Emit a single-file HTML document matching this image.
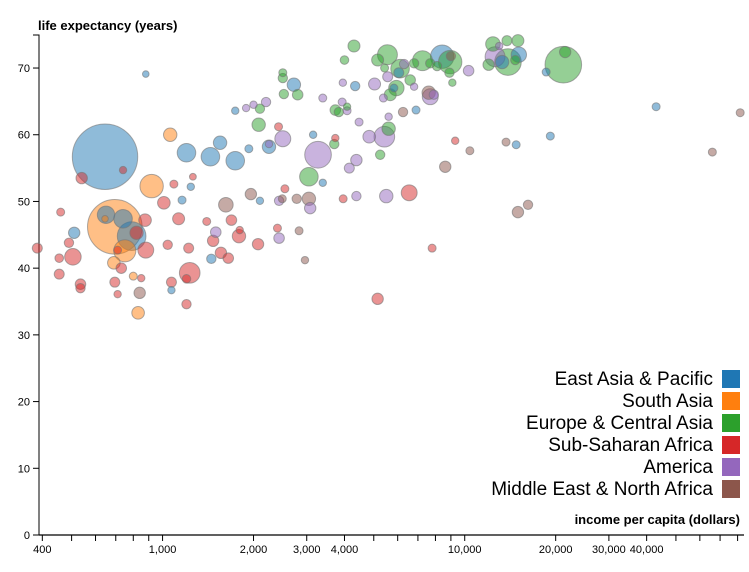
<!DOCTYPE html>
<html><head><meta charset="utf-8"><style>
body{margin:0;background:#fff;}
svg{display:block;font-family:"Liberation Sans",sans-serif;}
.tick text{font-size:11px;fill:#000;}
</style></head><body>
<svg id="chart" width="749" height="572">
<g id="axes"></g>
<g id="dots"></g>
<text x="38" y="30" font-size="13" font-weight="bold">life expectancy (years)</text>
<text x="740" y="524" font-size="13" font-weight="bold" text-anchor="end">income per capita (dollars)</text>
<g id="legend"></g>
</svg>
<script>
const regionNames = ["East Asia & Pacific","South Asia","Europe & Central Asia","Sub-Saharan Africa","America","Middle East & North Africa"];
const regionColors = ["#1f77b4","#ff7f0e","#2ca02c","#d62728","#9467bd","#8c564b"];
const yTicks = [0,10,20,30,40,50,60,70];
const xTickValues = [400,500,600,700,800,900,1000,2000,3000,4000,5000,6000,7000,8000,9000,10000,20000,30000,40000,50000,60000,70000,80000];
const xTickLabels = {400:"400",1000:"1,000",2000:"2,000",3000:"3,000",4000:"4,000",10000:"10,000",20000:"20,000",30000:"30,000",40000:"40,000"};
const incomes = [645,540,740,1060,1200,920,1090,1260,1240,1160,1010,695,650,645,740,790,820,875,750,710,880,460,510,490,385,455,505,690,730,455,535,535,695,800,850,710,840,830,1040,1220,1130,1400,1230,1200,1070,1070,1200,2500,2500,2720,2520,2800,3390,3950,4340,5030,2200,2000,1890,2100,1740,2080,2420,2500,1550,1440,1740,1930,2250,2250,3150,3730,3700,3270,3050,3390,4380,4150,5250,4830,5420,5600,4470,5600,6250,6900,3730,3830,3930,4080,4080,7690,7600,7900,8620,6550,5500,4380,3960,3050,3080,2780,2490,2430,2540,2100,1960,1620,1690,1790,1800,1500,1470,2070,2400,2430,2830,2960,1560,1650,1450,7800,5150,4300,4000,5550,5150,5430,6110,6050,6300,6600,5560,6800,5940,5830,5670,5380,7250,6800,7690,8420,8950,9000,8100,8900,10300,9100,12400,13800,15000,13900,12600,15100,13300,14700,12000,13000,21200,21500,18600,43000,81600,66000,19200,14800,13700,9300,10400,15000,16200,880];
const lifeExp = [56.7,53.5,54.7,60.0,57.3,52.3,52.6,53.7,52.2,50.2,49.8,46.2,48.0,47.4,47.4,44.8,45.3,47.2,42.6,42.7,42.7,48.4,45.3,43.8,43.0,41.5,41.7,40.8,40.0,39.1,37.6,37.0,37.9,38.8,38.5,36.1,36.3,33.3,43.5,43.0,47.4,47.0,39.3,38.4,37.9,36.7,34.6,69.3,68.5,67.5,66.1,66.0,65.5,67.8,67.3,67.6,64.9,64.5,64.0,63.9,63.6,61.5,61.2,59.4,58.8,56.7,56.1,57.9,58.2,58.6,60.0,59.5,58.6,57.0,53.7,52.8,56.2,55.0,57.0,59.7,59.7,60.9,61.9,62.7,63.4,63.7,63.7,63.4,64.9,63.6,64.2,65.7,66.3,66.0,55.2,51.3,50.8,50.8,50.4,50.4,49.0,50.4,50.4,50.1,51.9,50.1,51.1,49.5,47.2,44.8,45.7,45.4,44.1,43.6,46.0,44.5,45.6,41.2,42.3,41.5,41.4,43.0,35.4,73.3,71.2,72.0,71.2,70.0,69.9,69.3,70.6,68.2,68.7,67.2,67.0,67.0,66.0,65.5,71.1,70.7,70.7,71.7,70.9,71.8,70.3,69.3,69.6,67.8,73.6,74.1,74.1,70.9,71.7,72.0,70.9,71.2,70.5,73.3,70.5,72.4,69.4,64.2,63.3,57.4,59.8,58.5,58.9,59.1,57.6,48.4,49.5,69.1];
const populations = [422,12.8,5.4,17.7,34,54,6.3,4.6,5.4,6.3,15.7,294,30,4.3,34,81,17.7,15.7,48,6.3,25,6.3,12.8,8.7,9.9,7.3,27,15.7,11,9.9,11,8.7,9.9,6.3,5.4,5.4,12.8,15.7,8.7,9.9,14.2,6.3,42,7.3,9.9,5.4,8.7,6.3,8.7,17.7,8.7,11,6.3,5.4,8.7,14.2,8.7,5.4,5.4,8.7,5.4,17.7,6.3,25,17.7,34,34,6.3,17.7,5.4,5.4,5.4,8.7,70,34,5.4,12.8,9.9,8.7,15.7,42,17.7,6.3,5.4,8.7,6.3,11,8.7,6.3,6.3,5.4,25,17.7,8.7,12.8,25,17.7,8.7,6.3,17.7,12.8,8.7,6.3,8.7,6.3,5.4,12.8,21,11,17.7,5.4,11,12.8,12.8,6.3,11,6.3,5.4,12.8,11,8.7,6.3,12.8,14.2,7.3,39,14.2,6.3,34,9.9,8.7,11,9.9,5.4,23.4,6.3,14.2,6.3,39,8.7,8.7,54,54,8.7,8.7,8.7,11,5.4,21,9.9,14.2,70,39,23.4,17.7,8.7,12.8,5.4,132,12.8,6.3,6.3,6.3,6.3,6.3,6.3,6.3,5.4,6.3,12.8,8.7,4.3];
const regions = [0,3,3,1,0,1,3,3,0,0,3,1,0,1,0,0,3,3,1,3,3,3,0,3,3,3,3,1,3,3,3,3,3,1,3,3,5,1,3,3,3,3,3,3,3,0,3,2,2,0,2,2,4,4,0,4,4,4,4,2,0,2,3,4,0,0,0,0,0,4,0,3,2,4,2,0,4,4,2,4,4,2,4,4,5,0,2,2,4,4,2,4,5,4,5,3,4,4,3,5,4,5,5,4,3,0,5,5,3,3,3,4,3,3,3,4,5,5,3,3,0,3,3,2,2,2,2,2,2,0,4,2,4,4,2,0,2,4,2,2,2,0,2,5,2,2,4,2,2,2,2,2,4,0,0,2,2,4,2,2,0,0,5,5,0,0,5,3,5,5,5,0];

const NS = "http://www.w3.org/2000/svg";
const X0 = 39, X1 = 744, Y0 = 535, PX_PER_YEAR = 6.671;
const lmin = Math.log10(390), lmax = Math.log10(84000);
function xScale(v){ return X0 + (Math.log10(v) - lmin) / (lmax - lmin) * (X1 - X0); }
function yScale(v){ return Y0 - v * PX_PER_YEAR; }
function rScale(p){ return 39 * Math.sqrt(p / 600); }
function mk(tag, attrs, parent){ const e = document.createElementNS(NS, tag); for (const k in attrs) e.setAttribute(k, attrs[k]); parent.appendChild(e); return e; }

const axes = document.getElementById("axes");
const yAxis = mk("g", {}, axes);


mk("path", {d:"M33,35H39V535H33", fill:"none", stroke:"#000", "stroke-width":1}, yAxis);
yTicks.forEach(t => {
  const y = yScale(t);
  const g = mk("g", {class:"tick"}, yAxis);
  
  
  mk("line", {x1:33, x2:39, y1:y, y2:y, stroke:"#000"}, g);
  const tx = mk("text", {x:30, y:y+4, "text-anchor":"end"}, g);
  tx.textContent = t;
});
const xAxis = mk("g", {}, axes);


mk("path", {d:"M39,535H744", fill:"none", stroke:"#000", "stroke-width":1.2}, xAxis);
xTickValues.forEach(v => {
  const x = xScale(v);
  const g = mk("g", {class:"tick"}, xAxis);
  
  
  mk("line", {x1:x, x2:x, y1:535, y2:541, stroke:"#000"}, g);
  if (xTickLabels[v]) {
    const tx = mk("text", {x:x, y:553, "text-anchor":"middle"}, g);
    tx.textContent = xTickLabels[v];
  }
});

const dots = document.getElementById("dots");
const order = incomes.map((_, i) => i).sort((a, b) => populations[b] - populations[a]);
order.forEach(i => {
  const c = mk("circle", {cx:xScale(incomes[i]), cy:yScale(lifeExp[i]), r:rScale(populations[i]),
    fill:regionColors[regions[i]], "fill-opacity":0.5, stroke:"#777", "stroke-opacity":0.6, "stroke-width":1}, dots);
  
  
});

const legend = document.getElementById("legend");
regionNames.forEach((n, i) => {
  const y = 370 + i * 22;
  const g = mk("g", {}, legend);
  
  
  mk("rect", {x:722, y:y, width:18, height:18, fill:regionColors[i]}, g);
  const t = mk("text", {x:713, y:y+15, "text-anchor":"end", "font-size":"19"}, g);
  t.textContent = n;
});
</script>
</body></html>
